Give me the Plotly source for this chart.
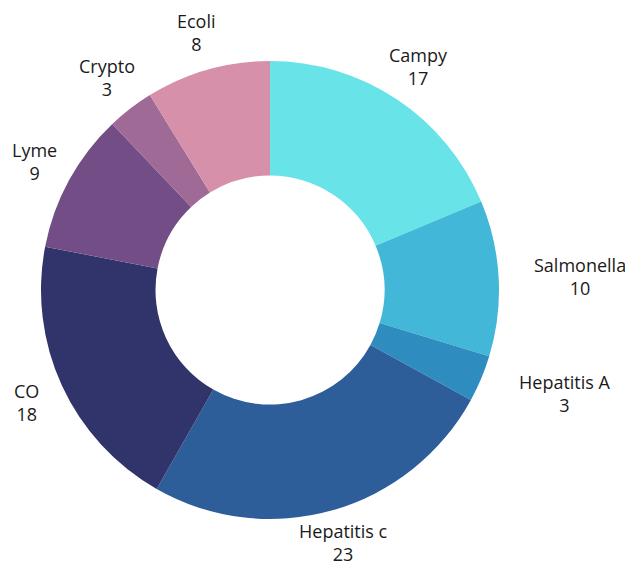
import math
import plotly.graph_objects as go

labels = ["Campy", "Salmonella", "Hepatitis A", "Hepatitis c", "CO", "Lyme", "Crypto", "Ecoli"]
values = [17, 10, 3, 23, 18, 9, 3, 8]
colors = ["#68E3E8", "#42B7D7", "#2E8DBE", "#2E5E99", "#30346B", "#734D85", "#A06A97", "#D690A9"]

off = 8  # page body margin
W, H = 633 - off, 565 - off
cx = 270 - off           # pie centre, px from left of figure
cy = H - (290 - off)     # pie centre, px from bottom of figure
R = 229
label_r = 268
fs = 18

fig = go.Figure(go.Pie(
    labels=labels,
    values=values,
    hole=0.5,
    sort=False,
    direction="clockwise",
    rotation=0,
    marker=dict(colors=colors, line=dict(width=0)),
    textinfo="none",
    showlegend=False,
    hoverinfo="label+value",
    domain=dict(x=[(cx - R) / W, (cx + R) / W], y=[(cy - R) / H, (cy + R) / H]),
))

total = sum(values)
cum = 0
annotations = []
for lab, v in zip(labels, values):
    mid = cum + v / 2
    cum += v
    ang = math.radians(90 - mid / total * 360)
    x = cx + label_r * math.cos(ang)
    y = cy + label_r * math.sin(ang)
    est_w = 0.55 * fs * max(len(lab), len(str(v)))
    hh = 1.25 * fs
    if math.cos(ang) > 0.85:
        xanchor = "left"
        x = min(x, W - est_w - 2)
    else:
        xanchor = "center"
        x = min(max(x, est_w / 2 + 2), W - est_w / 2 - 2)
    y = min(max(y, hh), H - hh)
    annotations.append(dict(
        x=x / W, y=y / H, xref="paper", yref="paper",
        text=f"{lab}<br>{v}", showarrow=False,
        xanchor=xanchor, yanchor="middle", align="center",
        font=dict(family="Open Sans", size=fs, color="#1a1a1a"),
    ))

fig.update_layout(
    width=W, height=H,
    margin=dict(l=0, r=0, t=0, b=0),
    paper_bgcolor="white",
    plot_bgcolor="white",
    annotations=annotations,
)

fig.write_html("out.html")
